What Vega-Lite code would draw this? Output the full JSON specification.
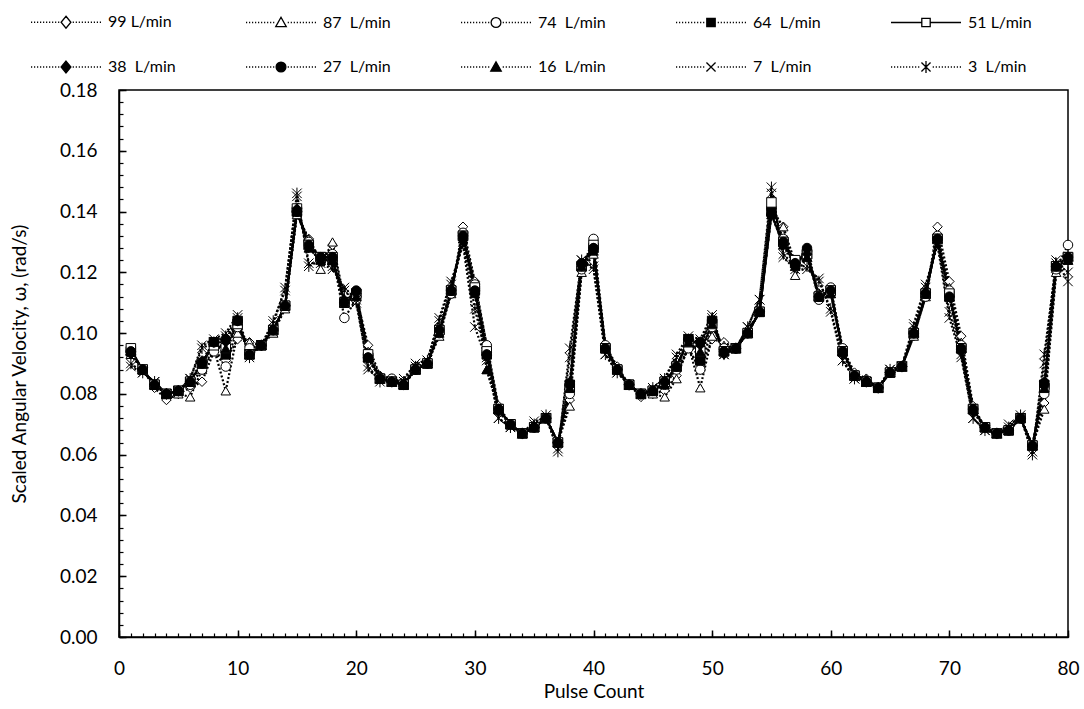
{
"$schema": "https://vega.github.io/schema/vega-lite/v6.json",
"width": 949, "height": 547,
"autosize": "none",
"padding": {"left": 119, "top": 90, "right": 16, "bottom": 72},
"background": "white",
"config": {"font": "Lato", "view": {"stroke": "black", "strokeWidth": 1.5}},
"data": {"values": [
{"f":99,"x":1,"v":0.093},{"f":99,"x":2,"v":0.088},{"f":99,"x":3,"v":0.082},{"f":99,"x":4,"v":0.078},{"f":99,"x":5,"v":0.080},{"f":99,"x":6,"v":0.082},{"f":99,"x":7,"v":0.084},{"f":99,"x":8,"v":0.094},{"f":99,"x":9,"v":0.091},{"f":99,"x":10,"v":0.098},
{"f":99,"x":11,"v":0.097},{"f":99,"x":12,"v":0.096},{"f":99,"x":13,"v":0.101},{"f":99,"x":14,"v":0.109},{"f":99,"x":15,"v":0.139},{"f":99,"x":16,"v":0.131},{"f":99,"x":17,"v":0.124},{"f":99,"x":18,"v":0.129},{"f":99,"x":19,"v":0.110},{"f":99,"x":20,"v":0.112},
{"f":99,"x":21,"v":0.096},{"f":99,"x":22,"v":0.086},{"f":99,"x":23,"v":0.085},{"f":99,"x":24,"v":0.083},{"f":99,"x":25,"v":0.089},{"f":99,"x":26,"v":0.090},{"f":99,"x":27,"v":0.100},{"f":99,"x":28,"v":0.113},{"f":99,"x":29,"v":0.135},{"f":99,"x":30,"v":0.117},
{"f":99,"x":31,"v":0.096},{"f":99,"x":32,"v":0.076},{"f":99,"x":33,"v":0.070},{"f":99,"x":34,"v":0.067},{"f":99,"x":35,"v":0.069},{"f":99,"x":36,"v":0.072},{"f":99,"x":37,"v":0.064},{"f":99,"x":38,"v":0.078},{"f":99,"x":39,"v":0.121},{"f":99,"x":40,"v":0.127},
{"f":99,"x":41,"v":0.096},{"f":99,"x":42,"v":0.089},{"f":99,"x":43,"v":0.083},{"f":99,"x":44,"v":0.079},{"f":99,"x":45,"v":0.080},{"f":99,"x":46,"v":0.081},{"f":99,"x":47,"v":0.086},{"f":99,"x":48,"v":0.095},{"f":99,"x":49,"v":0.088},{"f":99,"x":50,"v":0.098},
{"f":99,"x":51,"v":0.097},{"f":99,"x":52,"v":0.095},{"f":99,"x":53,"v":0.101},{"f":99,"x":54,"v":0.107},{"f":99,"x":55,"v":0.141},{"f":99,"x":56,"v":0.135},{"f":99,"x":57,"v":0.123},{"f":99,"x":58,"v":0.126},{"f":99,"x":59,"v":0.113},{"f":99,"x":60,"v":0.114},
{"f":99,"x":61,"v":0.095},{"f":99,"x":62,"v":0.087},{"f":99,"x":63,"v":0.085},{"f":99,"x":64,"v":0.082},{"f":99,"x":65,"v":0.087},{"f":99,"x":66,"v":0.089},{"f":99,"x":67,"v":0.099},{"f":99,"x":68,"v":0.112},{"f":99,"x":69,"v":0.135},{"f":99,"x":70,"v":0.117},
{"f":99,"x":71,"v":0.099},{"f":99,"x":72,"v":0.076},{"f":99,"x":73,"v":0.069},{"f":99,"x":74,"v":0.067},{"f":99,"x":75,"v":0.068},{"f":99,"x":76,"v":0.072},{"f":99,"x":77,"v":0.063},{"f":99,"x":78,"v":0.077},{"f":99,"x":79,"v":0.120},{"f":99,"x":80,"v":0.124},

{"f":87,"x":1,"v":0.093},{"f":87,"x":2,"v":0.088},{"f":87,"x":3,"v":0.083},{"f":87,"x":4,"v":0.080},{"f":87,"x":5,"v":0.080},{"f":87,"x":6,"v":0.079},{"f":87,"x":7,"v":0.088},{"f":87,"x":8,"v":0.095},{"f":87,"x":9,"v":0.081},{"f":87,"x":10,"v":0.100},
{"f":87,"x":11,"v":0.097},{"f":87,"x":12,"v":0.096},{"f":87,"x":13,"v":0.100},{"f":87,"x":14,"v":0.108},{"f":87,"x":15,"v":0.139},{"f":87,"x":16,"v":0.131},{"f":87,"x":17,"v":0.121},{"f":87,"x":18,"v":0.130},{"f":87,"x":19,"v":0.111},{"f":87,"x":20,"v":0.112},
{"f":87,"x":21,"v":0.094},{"f":87,"x":22,"v":0.086},{"f":87,"x":23,"v":0.085},{"f":87,"x":24,"v":0.083},{"f":87,"x":25,"v":0.089},{"f":87,"x":26,"v":0.090},{"f":87,"x":27,"v":0.099},{"f":87,"x":28,"v":0.113},{"f":87,"x":29,"v":0.133},{"f":87,"x":30,"v":0.116},
{"f":87,"x":31,"v":0.088},{"f":87,"x":32,"v":0.075},{"f":87,"x":33,"v":0.070},{"f":87,"x":34,"v":0.067},{"f":87,"x":35,"v":0.069},{"f":87,"x":36,"v":0.072},{"f":87,"x":37,"v":0.064},{"f":87,"x":38,"v":0.076},{"f":87,"x":39,"v":0.120},{"f":87,"x":40,"v":0.126},
{"f":87,"x":41,"v":0.096},{"f":87,"x":42,"v":0.088},{"f":87,"x":43,"v":0.083},{"f":87,"x":44,"v":0.080},{"f":87,"x":45,"v":0.080},{"f":87,"x":46,"v":0.079},{"f":87,"x":47,"v":0.085},{"f":87,"x":48,"v":0.096},{"f":87,"x":49,"v":0.082},{"f":87,"x":50,"v":0.099},
{"f":87,"x":51,"v":0.096},{"f":87,"x":52,"v":0.095},{"f":87,"x":53,"v":0.100},{"f":87,"x":54,"v":0.107},{"f":87,"x":55,"v":0.140},{"f":87,"x":56,"v":0.135},{"f":87,"x":57,"v":0.119},{"f":87,"x":58,"v":0.125},{"f":87,"x":59,"v":0.113},{"f":87,"x":60,"v":0.113},
{"f":87,"x":61,"v":0.095},{"f":87,"x":62,"v":0.086},{"f":87,"x":63,"v":0.085},{"f":87,"x":64,"v":0.082},{"f":87,"x":65,"v":0.087},{"f":87,"x":66,"v":0.089},{"f":87,"x":67,"v":0.099},{"f":87,"x":68,"v":0.112},{"f":87,"x":69,"v":0.132},{"f":87,"x":70,"v":0.115},
{"f":87,"x":71,"v":0.097},{"f":87,"x":72,"v":0.075},{"f":87,"x":73,"v":0.069},{"f":87,"x":74,"v":0.067},{"f":87,"x":75,"v":0.068},{"f":87,"x":76,"v":0.072},{"f":87,"x":77,"v":0.063},{"f":87,"x":78,"v":0.075},{"f":87,"x":79,"v":0.120},{"f":87,"x":80,"v":0.124},

{"f":74,"x":1,"v":0.094},{"f":74,"x":2,"v":0.088},{"f":74,"x":3,"v":0.083},{"f":74,"x":4,"v":0.080},{"f":74,"x":5,"v":0.081},{"f":74,"x":6,"v":0.083},{"f":74,"x":7,"v":0.088},{"f":74,"x":8,"v":0.094},{"f":74,"x":9,"v":0.089},{"f":74,"x":10,"v":0.102},
{"f":74,"x":11,"v":0.095},{"f":74,"x":12,"v":0.096},{"f":74,"x":13,"v":0.101},{"f":74,"x":14,"v":0.109},{"f":74,"x":15,"v":0.140},{"f":74,"x":16,"v":0.130},{"f":74,"x":17,"v":0.124},{"f":74,"x":18,"v":0.126},{"f":74,"x":19,"v":0.105},{"f":74,"x":20,"v":0.111},
{"f":74,"x":21,"v":0.093},{"f":74,"x":22,"v":0.085},{"f":74,"x":23,"v":0.085},{"f":74,"x":24,"v":0.083},{"f":74,"x":25,"v":0.088},{"f":74,"x":26,"v":0.090},{"f":74,"x":27,"v":0.100},{"f":74,"x":28,"v":0.113},{"f":74,"x":29,"v":0.133},{"f":74,"x":30,"v":0.116},
{"f":74,"x":31,"v":0.096},{"f":74,"x":32,"v":0.075},{"f":74,"x":33,"v":0.070},{"f":74,"x":34,"v":0.067},{"f":74,"x":35,"v":0.069},{"f":74,"x":36,"v":0.072},{"f":74,"x":37,"v":0.064},{"f":74,"x":38,"v":0.080},{"f":74,"x":39,"v":0.121},{"f":74,"x":40,"v":0.131},
{"f":74,"x":41,"v":0.096},{"f":74,"x":42,"v":0.088},{"f":74,"x":43,"v":0.083},{"f":74,"x":44,"v":0.080},{"f":74,"x":45,"v":0.081},{"f":74,"x":46,"v":0.083},{"f":74,"x":47,"v":0.088},{"f":74,"x":48,"v":0.095},{"f":74,"x":49,"v":0.088},{"f":74,"x":50,"v":0.102},
{"f":74,"x":51,"v":0.095},{"f":74,"x":52,"v":0.095},{"f":74,"x":53,"v":0.100},{"f":74,"x":54,"v":0.107},{"f":74,"x":55,"v":0.141},{"f":74,"x":56,"v":0.131},{"f":74,"x":57,"v":0.123},{"f":74,"x":58,"v":0.127},{"f":74,"x":59,"v":0.111},{"f":74,"x":60,"v":0.115},
{"f":74,"x":61,"v":0.095},{"f":74,"x":62,"v":0.086},{"f":74,"x":63,"v":0.084},{"f":74,"x":64,"v":0.082},{"f":74,"x":65,"v":0.087},{"f":74,"x":66,"v":0.089},{"f":74,"x":67,"v":0.100},{"f":74,"x":68,"v":0.112},{"f":74,"x":69,"v":0.132},{"f":74,"x":70,"v":0.114},
{"f":74,"x":71,"v":0.096},{"f":74,"x":72,"v":0.075},{"f":74,"x":73,"v":0.069},{"f":74,"x":74,"v":0.067},{"f":74,"x":75,"v":0.068},{"f":74,"x":76,"v":0.072},{"f":74,"x":77,"v":0.063},{"f":74,"x":78,"v":0.080},{"f":74,"x":79,"v":0.121},{"f":74,"x":80,"v":0.129},

{"f":64,"x":1,"v":0.094},{"f":64,"x":2,"v":0.088},{"f":64,"x":3,"v":0.083},{"f":64,"x":4,"v":0.080},{"f":64,"x":5,"v":0.081},{"f":64,"x":6,"v":0.084},{"f":64,"x":7,"v":0.090},{"f":64,"x":8,"v":0.097},{"f":64,"x":9,"v":0.093},{"f":64,"x":10,"v":0.104},
{"f":64,"x":11,"v":0.093},{"f":64,"x":12,"v":0.096},{"f":64,"x":13,"v":0.101},{"f":64,"x":14,"v":0.109},{"f":64,"x":15,"v":0.140},{"f":64,"x":16,"v":0.129},{"f":64,"x":17,"v":0.125},{"f":64,"x":18,"v":0.124},{"f":64,"x":19,"v":0.110},{"f":64,"x":20,"v":0.113},
{"f":64,"x":21,"v":0.092},{"f":64,"x":22,"v":0.085},{"f":64,"x":23,"v":0.084},{"f":64,"x":24,"v":0.083},{"f":64,"x":25,"v":0.088},{"f":64,"x":26,"v":0.090},{"f":64,"x":27,"v":0.101},{"f":64,"x":28,"v":0.114},{"f":64,"x":29,"v":0.132},{"f":64,"x":30,"v":0.114},
{"f":64,"x":31,"v":0.093},{"f":64,"x":32,"v":0.075},{"f":64,"x":33,"v":0.070},{"f":64,"x":34,"v":0.067},{"f":64,"x":35,"v":0.069},{"f":64,"x":36,"v":0.072},{"f":64,"x":37,"v":0.064},{"f":64,"x":38,"v":0.083},{"f":64,"x":39,"v":0.122},{"f":64,"x":40,"v":0.128},
{"f":64,"x":41,"v":0.095},{"f":64,"x":42,"v":0.088},{"f":64,"x":43,"v":0.083},{"f":64,"x":44,"v":0.080},{"f":64,"x":45,"v":0.081},{"f":64,"x":46,"v":0.084},{"f":64,"x":47,"v":0.089},{"f":64,"x":48,"v":0.098},{"f":64,"x":49,"v":0.091},{"f":64,"x":50,"v":0.104},
{"f":64,"x":51,"v":0.094},{"f":64,"x":52,"v":0.095},{"f":64,"x":53,"v":0.100},{"f":64,"x":54,"v":0.107},{"f":64,"x":55,"v":0.140},{"f":64,"x":56,"v":0.130},{"f":64,"x":57,"v":0.123},{"f":64,"x":58,"v":0.126},{"f":64,"x":59,"v":0.112},{"f":64,"x":60,"v":0.114},
{"f":64,"x":61,"v":0.094},{"f":64,"x":62,"v":0.086},{"f":64,"x":63,"v":0.084},{"f":64,"x":64,"v":0.082},{"f":64,"x":65,"v":0.087},{"f":64,"x":66,"v":0.089},{"f":64,"x":67,"v":0.100},{"f":64,"x":68,"v":0.113},{"f":64,"x":69,"v":0.131},{"f":64,"x":70,"v":0.112},
{"f":64,"x":71,"v":0.095},{"f":64,"x":72,"v":0.075},{"f":64,"x":73,"v":0.069},{"f":64,"x":74,"v":0.067},{"f":64,"x":75,"v":0.068},{"f":64,"x":76,"v":0.072},{"f":64,"x":77,"v":0.063},{"f":64,"x":78,"v":0.083},{"f":64,"x":79,"v":0.122},{"f":64,"x":80,"v":0.125},

{"f":51,"x":1,"v":0.095},{"f":51,"x":2,"v":0.088},{"f":51,"x":3,"v":0.083},{"f":51,"x":4,"v":0.080},{"f":51,"x":5,"v":0.081},{"f":51,"x":6,"v":0.084},{"f":51,"x":7,"v":0.090},{"f":51,"x":8,"v":0.096},{"f":51,"x":9,"v":0.095},{"f":51,"x":10,"v":0.103},
{"f":51,"x":11,"v":0.093},{"f":51,"x":12,"v":0.096},{"f":51,"x":13,"v":0.101},{"f":51,"x":14,"v":0.109},{"f":51,"x":15,"v":0.141},{"f":51,"x":16,"v":0.129},{"f":51,"x":17,"v":0.125},{"f":51,"x":18,"v":0.125},{"f":51,"x":19,"v":0.110},{"f":51,"x":20,"v":0.113},
{"f":51,"x":21,"v":0.093},{"f":51,"x":22,"v":0.085},{"f":51,"x":23,"v":0.084},{"f":51,"x":24,"v":0.083},{"f":51,"x":25,"v":0.088},{"f":51,"x":26,"v":0.090},{"f":51,"x":27,"v":0.101},{"f":51,"x":28,"v":0.114},{"f":51,"x":29,"v":0.132},{"f":51,"x":30,"v":0.115},
{"f":51,"x":31,"v":0.094},{"f":51,"x":32,"v":0.075},{"f":51,"x":33,"v":0.070},{"f":51,"x":34,"v":0.067},{"f":51,"x":35,"v":0.069},{"f":51,"x":36,"v":0.072},{"f":51,"x":37,"v":0.064},{"f":51,"x":38,"v":0.082},{"f":51,"x":39,"v":0.122},{"f":51,"x":40,"v":0.129},
{"f":51,"x":41,"v":0.095},{"f":51,"x":42,"v":0.088},{"f":51,"x":43,"v":0.083},{"f":51,"x":44,"v":0.080},{"f":51,"x":45,"v":0.081},{"f":51,"x":46,"v":0.084},{"f":51,"x":47,"v":0.089},{"f":51,"x":48,"v":0.097},{"f":51,"x":49,"v":0.094},{"f":51,"x":50,"v":0.103},
{"f":51,"x":51,"v":0.094},{"f":51,"x":52,"v":0.095},{"f":51,"x":53,"v":0.100},{"f":51,"x":54,"v":0.107},{"f":51,"x":55,"v":0.143},{"f":51,"x":56,"v":0.130},{"f":51,"x":57,"v":0.124},{"f":51,"x":58,"v":0.126},{"f":51,"x":59,"v":0.112},{"f":51,"x":60,"v":0.114},
{"f":51,"x":61,"v":0.094},{"f":51,"x":62,"v":0.086},{"f":51,"x":63,"v":0.084},{"f":51,"x":64,"v":0.082},{"f":51,"x":65,"v":0.087},{"f":51,"x":66,"v":0.089},{"f":51,"x":67,"v":0.100},{"f":51,"x":68,"v":0.113},{"f":51,"x":69,"v":0.131},{"f":51,"x":70,"v":0.113},
{"f":51,"x":71,"v":0.095},{"f":51,"x":72,"v":0.075},{"f":51,"x":73,"v":0.069},{"f":51,"x":74,"v":0.067},{"f":51,"x":75,"v":0.068},{"f":51,"x":76,"v":0.072},{"f":51,"x":77,"v":0.063},{"f":51,"x":78,"v":0.082},{"f":51,"x":79,"v":0.122},{"f":51,"x":80,"v":0.125},

{"f":38,"x":1,"v":0.093},{"f":38,"x":2,"v":0.088},{"f":38,"x":3,"v":0.083},{"f":38,"x":4,"v":0.080},{"f":38,"x":5,"v":0.081},{"f":38,"x":6,"v":0.084},{"f":38,"x":7,"v":0.091},{"f":38,"x":8,"v":0.097},{"f":38,"x":9,"v":0.097},{"f":38,"x":10,"v":0.104},
{"f":38,"x":11,"v":0.093},{"f":38,"x":12,"v":0.096},{"f":38,"x":13,"v":0.101},{"f":38,"x":14,"v":0.109},{"f":38,"x":15,"v":0.141},{"f":38,"x":16,"v":0.128},{"f":38,"x":17,"v":0.124},{"f":38,"x":18,"v":0.124},{"f":38,"x":19,"v":0.111},{"f":38,"x":20,"v":0.113},
{"f":38,"x":21,"v":0.092},{"f":38,"x":22,"v":0.085},{"f":38,"x":23,"v":0.084},{"f":38,"x":24,"v":0.083},{"f":38,"x":25,"v":0.088},{"f":38,"x":26,"v":0.090},{"f":38,"x":27,"v":0.101},{"f":38,"x":28,"v":0.114},{"f":38,"x":29,"v":0.131},{"f":38,"x":30,"v":0.113},
{"f":38,"x":31,"v":0.093},{"f":38,"x":32,"v":0.074},{"f":38,"x":33,"v":0.070},{"f":38,"x":34,"v":0.067},{"f":38,"x":35,"v":0.069},{"f":38,"x":36,"v":0.072},{"f":38,"x":37,"v":0.064},{"f":38,"x":38,"v":0.084},{"f":38,"x":39,"v":0.122},{"f":38,"x":40,"v":0.128},
{"f":38,"x":41,"v":0.095},{"f":38,"x":42,"v":0.088},{"f":38,"x":43,"v":0.083},{"f":38,"x":44,"v":0.080},{"f":38,"x":45,"v":0.081},{"f":38,"x":46,"v":0.084},{"f":38,"x":47,"v":0.089},{"f":38,"x":48,"v":0.098},{"f":38,"x":49,"v":0.096},{"f":38,"x":50,"v":0.104},
{"f":38,"x":51,"v":0.093},{"f":38,"x":52,"v":0.095},{"f":38,"x":53,"v":0.100},{"f":38,"x":54,"v":0.107},{"f":38,"x":55,"v":0.139},{"f":38,"x":56,"v":0.129},{"f":38,"x":57,"v":0.123},{"f":38,"x":58,"v":0.126},{"f":38,"x":59,"v":0.112},{"f":38,"x":60,"v":0.114},
{"f":38,"x":61,"v":0.093},{"f":38,"x":62,"v":0.086},{"f":38,"x":63,"v":0.084},{"f":38,"x":64,"v":0.082},{"f":38,"x":65,"v":0.087},{"f":38,"x":66,"v":0.089},{"f":38,"x":67,"v":0.100},{"f":38,"x":68,"v":0.113},{"f":38,"x":69,"v":0.131},{"f":38,"x":70,"v":0.112},
{"f":38,"x":71,"v":0.094},{"f":38,"x":72,"v":0.074},{"f":38,"x":73,"v":0.069},{"f":38,"x":74,"v":0.067},{"f":38,"x":75,"v":0.068},{"f":38,"x":76,"v":0.072},{"f":38,"x":77,"v":0.063},{"f":38,"x":78,"v":0.084},{"f":38,"x":79,"v":0.122},{"f":38,"x":80,"v":0.124},

{"f":27,"x":1,"v":0.094},{"f":27,"x":2,"v":0.088},{"f":27,"x":3,"v":0.083},{"f":27,"x":4,"v":0.080},{"f":27,"x":5,"v":0.081},{"f":27,"x":6,"v":0.084},{"f":27,"x":7,"v":0.090},{"f":27,"x":8,"v":0.097},{"f":27,"x":9,"v":0.098},{"f":27,"x":10,"v":0.104},
{"f":27,"x":11,"v":0.093},{"f":27,"x":12,"v":0.096},{"f":27,"x":13,"v":0.101},{"f":27,"x":14,"v":0.109},{"f":27,"x":15,"v":0.140},{"f":27,"x":16,"v":0.129},{"f":27,"x":17,"v":0.125},{"f":27,"x":18,"v":0.125},{"f":27,"x":19,"v":0.110},{"f":27,"x":20,"v":0.114},
{"f":27,"x":21,"v":0.092},{"f":27,"x":22,"v":0.085},{"f":27,"x":23,"v":0.084},{"f":27,"x":24,"v":0.083},{"f":27,"x":25,"v":0.088},{"f":27,"x":26,"v":0.090},{"f":27,"x":27,"v":0.101},{"f":27,"x":28,"v":0.114},{"f":27,"x":29,"v":0.132},{"f":27,"x":30,"v":0.114},
{"f":27,"x":31,"v":0.093},{"f":27,"x":32,"v":0.075},{"f":27,"x":33,"v":0.070},{"f":27,"x":34,"v":0.067},{"f":27,"x":35,"v":0.069},{"f":27,"x":36,"v":0.072},{"f":27,"x":37,"v":0.064},{"f":27,"x":38,"v":0.083},{"f":27,"x":39,"v":0.123},{"f":27,"x":40,"v":0.128},
{"f":27,"x":41,"v":0.095},{"f":27,"x":42,"v":0.088},{"f":27,"x":43,"v":0.083},{"f":27,"x":44,"v":0.080},{"f":27,"x":45,"v":0.081},{"f":27,"x":46,"v":0.084},{"f":27,"x":47,"v":0.089},{"f":27,"x":48,"v":0.098},{"f":27,"x":49,"v":0.097},{"f":27,"x":50,"v":0.104},
{"f":27,"x":51,"v":0.094},{"f":27,"x":52,"v":0.095},{"f":27,"x":53,"v":0.100},{"f":27,"x":54,"v":0.107},{"f":27,"x":55,"v":0.139},{"f":27,"x":56,"v":0.130},{"f":27,"x":57,"v":0.123},{"f":27,"x":58,"v":0.128},{"f":27,"x":59,"v":0.112},{"f":27,"x":60,"v":0.114},
{"f":27,"x":61,"v":0.094},{"f":27,"x":62,"v":0.086},{"f":27,"x":63,"v":0.084},{"f":27,"x":64,"v":0.082},{"f":27,"x":65,"v":0.087},{"f":27,"x":66,"v":0.089},{"f":27,"x":67,"v":0.100},{"f":27,"x":68,"v":0.113},{"f":27,"x":69,"v":0.131},{"f":27,"x":70,"v":0.112},
{"f":27,"x":71,"v":0.095},{"f":27,"x":72,"v":0.075},{"f":27,"x":73,"v":0.069},{"f":27,"x":74,"v":0.067},{"f":27,"x":75,"v":0.068},{"f":27,"x":76,"v":0.072},{"f":27,"x":77,"v":0.063},{"f":27,"x":78,"v":0.083},{"f":27,"x":79,"v":0.122},{"f":27,"x":80,"v":0.125},

{"f":16,"x":1,"v":0.094},{"f":16,"x":2,"v":0.088},{"f":16,"x":3,"v":0.083},{"f":16,"x":4,"v":0.080},{"f":16,"x":5,"v":0.081},{"f":16,"x":6,"v":0.084},{"f":16,"x":7,"v":0.090},{"f":16,"x":8,"v":0.097},{"f":16,"x":9,"v":0.095},{"f":16,"x":10,"v":0.104},
{"f":16,"x":11,"v":0.093},{"f":16,"x":12,"v":0.096},{"f":16,"x":13,"v":0.101},{"f":16,"x":14,"v":0.109},{"f":16,"x":15,"v":0.140},{"f":16,"x":16,"v":0.128},{"f":16,"x":17,"v":0.124},{"f":16,"x":18,"v":0.124},{"f":16,"x":19,"v":0.110},{"f":16,"x":20,"v":0.112},
{"f":16,"x":21,"v":0.092},{"f":16,"x":22,"v":0.085},{"f":16,"x":23,"v":0.084},{"f":16,"x":24,"v":0.083},{"f":16,"x":25,"v":0.088},{"f":16,"x":26,"v":0.090},{"f":16,"x":27,"v":0.100},{"f":16,"x":28,"v":0.114},{"f":16,"x":29,"v":0.131},{"f":16,"x":30,"v":0.113},
{"f":16,"x":31,"v":0.088},{"f":16,"x":32,"v":0.075},{"f":16,"x":33,"v":0.070},{"f":16,"x":34,"v":0.067},{"f":16,"x":35,"v":0.069},{"f":16,"x":36,"v":0.072},{"f":16,"x":37,"v":0.064},{"f":16,"x":38,"v":0.082},{"f":16,"x":39,"v":0.122},{"f":16,"x":40,"v":0.127},
{"f":16,"x":41,"v":0.095},{"f":16,"x":42,"v":0.088},{"f":16,"x":43,"v":0.083},{"f":16,"x":44,"v":0.080},{"f":16,"x":45,"v":0.081},{"f":16,"x":46,"v":0.083},{"f":16,"x":47,"v":0.089},{"f":16,"x":48,"v":0.097},{"f":16,"x":49,"v":0.094},{"f":16,"x":50,"v":0.103},
{"f":16,"x":51,"v":0.094},{"f":16,"x":52,"v":0.095},{"f":16,"x":53,"v":0.100},{"f":16,"x":54,"v":0.107},{"f":16,"x":55,"v":0.139},{"f":16,"x":56,"v":0.129},{"f":16,"x":57,"v":0.122},{"f":16,"x":58,"v":0.125},{"f":16,"x":59,"v":0.112},{"f":16,"x":60,"v":0.113},
{"f":16,"x":61,"v":0.094},{"f":16,"x":62,"v":0.086},{"f":16,"x":63,"v":0.084},{"f":16,"x":64,"v":0.082},{"f":16,"x":65,"v":0.087},{"f":16,"x":66,"v":0.089},{"f":16,"x":67,"v":0.100},{"f":16,"x":68,"v":0.113},{"f":16,"x":69,"v":0.131},{"f":16,"x":70,"v":0.112},
{"f":16,"x":71,"v":0.095},{"f":16,"x":72,"v":0.075},{"f":16,"x":73,"v":0.069},{"f":16,"x":74,"v":0.067},{"f":16,"x":75,"v":0.068},{"f":16,"x":76,"v":0.072},{"f":16,"x":77,"v":0.063},{"f":16,"x":78,"v":0.082},{"f":16,"x":79,"v":0.122},{"f":16,"x":80,"v":0.124},

{"f":7,"x":1,"v":0.089},{"f":7,"x":2,"v":0.087},{"f":7,"x":3,"v":0.084},{"f":7,"x":4,"v":0.080},{"f":7,"x":5,"v":0.081},{"f":7,"x":6,"v":0.085},{"f":7,"x":7,"v":0.096},{"f":7,"x":8,"v":0.098},{"f":7,"x":9,"v":0.100},{"f":7,"x":10,"v":0.106},
{"f":7,"x":11,"v":0.093},{"f":7,"x":12,"v":0.096},{"f":7,"x":13,"v":0.103},{"f":7,"x":14,"v":0.115},{"f":7,"x":15,"v":0.145},{"f":7,"x":16,"v":0.123},{"f":7,"x":17,"v":0.123},{"f":7,"x":18,"v":0.121},{"f":7,"x":19,"v":0.115},{"f":7,"x":20,"v":0.111},
{"f":7,"x":21,"v":0.088},{"f":7,"x":22,"v":0.085},{"f":7,"x":23,"v":0.084},{"f":7,"x":24,"v":0.085},{"f":7,"x":25,"v":0.090},{"f":7,"x":26,"v":0.091},{"f":7,"x":27,"v":0.105},{"f":7,"x":28,"v":0.117},{"f":7,"x":29,"v":0.129},{"f":7,"x":30,"v":0.102},
{"f":7,"x":31,"v":0.091},{"f":7,"x":32,"v":0.072},{"f":7,"x":33,"v":0.069},{"f":7,"x":34,"v":0.067},{"f":7,"x":35,"v":0.071},{"f":7,"x":36,"v":0.072},{"f":7,"x":37,"v":0.062},{"f":7,"x":38,"v":0.092},{"f":7,"x":39,"v":0.124},{"f":7,"x":40,"v":0.121},
{"f":7,"x":41,"v":0.093},{"f":7,"x":42,"v":0.087},{"f":7,"x":43,"v":0.083},{"f":7,"x":44,"v":0.080},{"f":7,"x":45,"v":0.082},{"f":7,"x":46,"v":0.085},{"f":7,"x":47,"v":0.093},{"f":7,"x":48,"v":0.099},{"f":7,"x":49,"v":0.098},{"f":7,"x":50,"v":0.106},
{"f":7,"x":51,"v":0.093},{"f":7,"x":52,"v":0.095},{"f":7,"x":53,"v":0.102},{"f":7,"x":54,"v":0.111},{"f":7,"x":55,"v":0.146},{"f":7,"x":56,"v":0.125},{"f":7,"x":57,"v":0.121},{"f":7,"x":58,"v":0.121},{"f":7,"x":59,"v":0.118},{"f":7,"x":60,"v":0.107},
{"f":7,"x":61,"v":0.091},{"f":7,"x":62,"v":0.085},{"f":7,"x":63,"v":0.084},{"f":7,"x":64,"v":0.082},{"f":7,"x":65,"v":0.088},{"f":7,"x":66,"v":0.089},{"f":7,"x":67,"v":0.103},{"f":7,"x":68,"v":0.116},{"f":7,"x":69,"v":0.129},{"f":7,"x":70,"v":0.105},
{"f":7,"x":71,"v":0.092},{"f":7,"x":72,"v":0.072},{"f":7,"x":73,"v":0.068},{"f":7,"x":74,"v":0.067},{"f":7,"x":75,"v":0.070},{"f":7,"x":76,"v":0.072},{"f":7,"x":77,"v":0.061},{"f":7,"x":78,"v":0.090},{"f":7,"x":79,"v":0.124},{"f":7,"x":80,"v":0.117},

{"f":3,"x":1,"v":0.090},{"f":3,"x":2,"v":0.087},{"f":3,"x":3,"v":0.084},{"f":3,"x":4,"v":0.080},{"f":3,"x":5,"v":0.081},{"f":3,"x":6,"v":0.085},{"f":3,"x":7,"v":0.095},{"f":3,"x":8,"v":0.097},{"f":3,"x":9,"v":0.099},{"f":3,"x":10,"v":0.105},
{"f":3,"x":11,"v":0.092},{"f":3,"x":12,"v":0.096},{"f":3,"x":13,"v":0.104},{"f":3,"x":14,"v":0.114},{"f":3,"x":15,"v":0.146},{"f":3,"x":16,"v":0.122},{"f":3,"x":17,"v":0.124},{"f":3,"x":18,"v":0.122},{"f":3,"x":19,"v":0.114},{"f":3,"x":20,"v":0.110},
{"f":3,"x":21,"v":0.089},{"f":3,"x":22,"v":0.084},{"f":3,"x":23,"v":0.084},{"f":3,"x":24,"v":0.084},{"f":3,"x":25,"v":0.089},{"f":3,"x":26,"v":0.091},{"f":3,"x":27,"v":0.104},{"f":3,"x":28,"v":0.116},{"f":3,"x":29,"v":0.130},{"f":3,"x":30,"v":0.108},
{"f":3,"x":31,"v":0.092},{"f":3,"x":32,"v":0.072},{"f":3,"x":33,"v":0.069},{"f":3,"x":34,"v":0.067},{"f":3,"x":35,"v":0.070},{"f":3,"x":36,"v":0.073},{"f":3,"x":37,"v":0.061},{"f":3,"x":38,"v":0.095},{"f":3,"x":39,"v":0.124},{"f":3,"x":40,"v":0.122},
{"f":3,"x":41,"v":0.093},{"f":3,"x":42,"v":0.087},{"f":3,"x":43,"v":0.083},{"f":3,"x":44,"v":0.080},{"f":3,"x":45,"v":0.082},{"f":3,"x":46,"v":0.085},{"f":3,"x":47,"v":0.092},{"f":3,"x":48,"v":0.098},{"f":3,"x":49,"v":0.097},{"f":3,"x":50,"v":0.105},
{"f":3,"x":51,"v":0.093},{"f":3,"x":52,"v":0.095},{"f":3,"x":53,"v":0.102},{"f":3,"x":54,"v":0.111},{"f":3,"x":55,"v":0.148},{"f":3,"x":56,"v":0.126},{"f":3,"x":57,"v":0.122},{"f":3,"x":58,"v":0.122},{"f":3,"x":59,"v":0.117},{"f":3,"x":60,"v":0.108},
{"f":3,"x":61,"v":0.091},{"f":3,"x":62,"v":0.085},{"f":3,"x":63,"v":0.084},{"f":3,"x":64,"v":0.082},{"f":3,"x":65,"v":0.088},{"f":3,"x":66,"v":0.089},{"f":3,"x":67,"v":0.102},{"f":3,"x":68,"v":0.115},{"f":3,"x":69,"v":0.130},{"f":3,"x":70,"v":0.107},
{"f":3,"x":71,"v":0.093},{"f":3,"x":72,"v":0.072},{"f":3,"x":73,"v":0.068},{"f":3,"x":74,"v":0.067},{"f":3,"x":75,"v":0.069},{"f":3,"x":76,"v":0.073},{"f":3,"x":77,"v":0.060},{"f":3,"x":78,"v":0.093},{"f":3,"x":79,"v":0.123},{"f":3,"x":80,"v":0.120}
]},
"layer": [
 {
  "transform": [{"filter": "datum.f != 51"}],
  "mark": {"type": "line", "color": "black", "strokeWidth": 2.2, "strokeCap": "butt", "strokeDash": [2, 2]},
  "encoding": {
   "x": {"field": "x", "type": "quantitative", "scale": {"domain": [0, 80], "nice": false},
     "axis": {"orient": "bottom", "values": [0,10,20,30,40,50,60,70,80], "grid": false, "tickSize": -7, "tickWidth": 1.5, "tickColor": "black", "domainColor": "black", "domainWidth": 1.5, "labelFont": "Lato", "labelFontSize": 19, "labelColor": "black", "labelPadding": 29, "labelFlush": false, "labelOverlap": false, "title": "Pulse Count", "titleFont": "Lato", "titleFontSize": 19, "titleFontWeight": "normal", "titleColor": "black", "titlePadding": 4}},
   "y": {"field": "v", "type": "quantitative", "scale": {"domain": [0, 0.18], "nice": false},
     "axis": {"orient": "left", "values": [0,0.02,0.04,0.06,0.08,0.1,0.12,0.14,0.16,0.18], "format": ".2f", "grid": false, "tickSize": -7, "tickWidth": 1.5, "tickColor": "black", "domainColor": "black", "domainWidth": 1.5, "labelFont": "Lato", "labelFontSize": 19, "labelColor": "black", "labelPadding": 29, "labelOverlap": false, "title": "Scaled Angular Velocity, ω, (rad/s)", "titleFont": "Lato", "titleFontSize": 19, "titleFontWeight": "normal", "titleColor": "black", "titlePadding": 30}},
   "detail": {"field": "f", "type": "nominal"}
  }
 },
 {
  "transform": [{"filter": "datum.f == 51"}],
  "mark": {"type": "line", "color": "black", "strokeWidth": 1.5},
  "encoding": {
   "x": {"field": "x", "type": "quantitative", "axis": null},
   "y": {"field": "v", "type": "quantitative", "axis": null}
  }
 },
 {
  "mark": {"type": "point", "filled": true, "opacity": 1, "size": 90, "stroke": "black", "strokeWidth": 1},
  "encoding": {
   "x": {"field": "x", "type": "quantitative", "scale": {"domain": [0, 80], "nice": false},
     "axis": {"orient": "bottom", "values": [0,1,2,3,4,5,6,7,8,9,10,11,12,13,14,15,16,17,18,19,20,21,22,23,24,25,26,27,28,29,30,31,32,33,34,35,36,37,38,39,40,41,42,43,44,45,46,47,48,49,50,51,52,53,54,55,56,57,58,59,60,61,62,63,64,65,66,67,68,69,70,71,72,73,74,75,76,77,78,79,80], "labels": false, "domain": false, "grid": false, "tickSize": -4, "tickWidth": 1.2, "tickColor": "black", "title": null}},
   "y": {"field": "v", "type": "quantitative", "scale": {"domain": [0, 0.18], "nice": false},
     "axis": {"orient": "left", "values": [0,0.004,0.008,0.012,0.016,0.02,0.024,0.028,0.032,0.036,0.04,0.044,0.048,0.052,0.056,0.06,0.064,0.068,0.072,0.076,0.08,0.084,0.088,0.092,0.096,0.1,0.104,0.108,0.112,0.116,0.12,0.124,0.128,0.132,0.136,0.14,0.144,0.148,0.152,0.156,0.16,0.164,0.168,0.172,0.176,0.18], "labels": false, "domain": false, "grid": false, "tickSize": -4, "tickWidth": 1.2, "tickColor": "black", "title": null}},
   "shape": {"field": "f", "type": "nominal",
     "scale": {"domain": [3,7,16,27,38,51,64,74,87,99], "range": ["M-1,-1L1,1M-1,1L1,-1M0,-1.2V1.2","M-1,-1L1,1M-1,1L1,-1","triangle-up","circle","diamond","square","square","circle","triangle-up","diamond"]},
     "legend": null},
   "fill": {"field": "f", "type": "nominal",
     "scale": {"domain": [99,87,74,64,51,38,27,16,7,3], "range": ["white","white","white","black","white","black","black","black","transparent","transparent"]},
     "legend": {"title": null, "orient": "none", "legendX": -89, "legendY": -104, "direction": "horizontal", "columns": 5, "gridAlign": "all", "columnPadding": 67, "rowPadding": -3, "padding": 0,
       "symbolSize": 4900, "symbolStrokeWidth": 1.3, "symbolStrokeColor": "black", "labelFont": "Lato", "labelFontSize": 16, "labelColor": "black", "labelOffset": 6, "labelLimit": 200,
       "labelExpr": "datum.value == 99 || datum.value == 51 ? datum.label + ' L/min' : datum.label + '\u00a0 L/min'",
       "symbolType": {"expr": "(datum.value == 51 ? 'M-1,0H-0.13M0.13,0H1' : 'M-1,0h0.034m0.052,0h0.034m0.052,0h0.034m0.052,0h0.034m0.052,0h0.034m0.052,0h0.034m0.052,0h0.034m0.052,0h0.034m0.052,0h0.034m0.052,0h0.034M0.192,0h0.034m0.052,0h0.034m0.052,0h0.034m0.052,0h0.034m0.052,0h0.034m0.052,0h0.034m0.052,0h0.034m0.052,0h0.034m0.052,0h0.034m0.052,0h0.034') + (datum.value == 99 || datum.value == 38 ? 'M0,-0.17L0.14,0L0,0.17L-0.14,0Z' : datum.value == 87 || datum.value == 16 ? 'M0,-0.15L0.15,0.12L-0.15,0.12Z' : datum.value == 74 || datum.value == 27 ? 'M0.14,0A0.14 0.14 0 1 1 -0.14,0A0.14 0.14 0 1 1 0.14,0Z' : datum.value == 64 || datum.value == 51 ? 'M-0.12,-0.12H0.12V0.12H-0.12Z' : datum.value == 7 ? 'M-0.13,-0.13L0.13,0.13M-0.13,0.13L0.13,-0.13' : 'M-0.13,-0.13L0.13,0.13M-0.13,0.13L0.13,-0.13M0,-0.17V0.17')"}
     }}
  }
 }
],
"resolve": {"axis": {"x": "independent", "y": "independent"}}
}
